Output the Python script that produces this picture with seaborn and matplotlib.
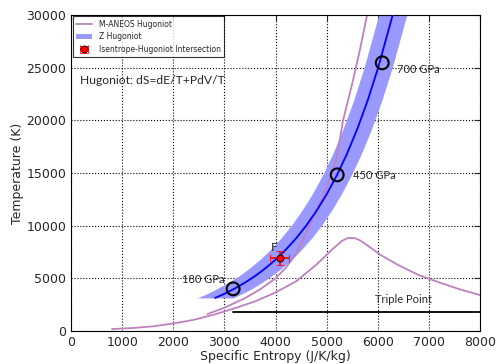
import numpy as np
import pandas as pd
import matplotlib
matplotlib.use("Agg")
import matplotlib.pyplot as plt
import seaborn as sns
from matplotlib.lines import Line2D
from matplotlib.patches import Patch

# M-ANEOS Hugoniot, branch 1 (rising steeply)
aneos1_S = [2670, 3000, 3400, 3700, 4000, 4200, 4400, 4600, 4800, 5000, 5100, 5200, 5320, 5500, 5650, 5790]
aneos1_T = [1600, 2200, 3100, 3950, 5000, 6000, 7300, 9300, 11400, 13600, 15000, 16500, 20000, 23500, 26700, 30000]
# M-ANEOS Hugoniot, branch 2 (peak then decline)
aneos2_S = [800, 1200, 1600, 2000, 2400, 2800, 3200, 3600, 4000, 4400, 4800, 5100, 5300, 5420,
            5550, 5650, 5800, 6050, 6400, 6800, 7200, 7600, 8000]
aneos2_T = [170, 270, 430, 700, 1050, 1550, 2150, 2800, 3650, 4700, 6300, 7700, 8550, 8830,
            8800, 8600, 8100, 7220, 6250, 5300, 4600, 3950, 3400]
# Z Hugoniot
z_S = [2818, 3000, 3200, 3400, 3600, 3800, 4000, 4200, 4400, 4600, 4800, 5000, 5200, 5400, 5600, 5800, 6000, 6200, 6290]
z_T = [3130, 3520, 4020, 4580, 5210, 5940, 6760, 7710, 8780, 10000, 11400, 12980, 14790, 16850, 19200, 21870, 24900, 28400, 30000]
z_band = [350, 345, 340, 330, 320, 315, 310, 305, 300, 295, 290, 285, 280, 280, 278, 276, 275, 275, 275]
# pressure points
p_S = [3170, 5205, 6086]
p_T = [3990, 14815, 25450]
p_lab = ["180 GPa", "450 GPa", "700 GPa"]
# intersection
f_S, f_T, f_Serr, f_Terr = 4080, 6930, 180, 650
# triple point
tp_T = 1800
tp_S = [3175, 8000]

sns.set_style("white")
plt.rcParams['font.family'] = ['DejaVu Sans']

fig = plt.figure(figsize=(4.97, 3.64), dpi=100)
ax = fig.add_axes([0.143, 0.091, 0.823, 0.868])

band_col = (0.6, 0.6, 1.0)
zs = np.array(z_S); zb = np.array(z_band)
ax.fill_betweenx(z_T, zs - zb, zs + zb, color=band_col, lw=0, zorder=1)

purple = (0.75, 0.5, 0.75)
df1 = pd.DataFrame({"S": aneos1_S, "T": aneos1_T})
df2 = pd.DataFrame({"S": aneos2_S, "T": aneos2_T})
dfz = pd.DataFrame({"S": z_S, "T": z_T})
sns.lineplot(data=df1, x="S", y="T", sort=False, estimator=None, color=purple, lw=1.3, ax=ax, zorder=2)
sns.lineplot(data=df2, x="S", y="T", sort=False, estimator=None, color=purple, lw=1.3, ax=ax, zorder=2)
sns.lineplot(data=dfz, x="S", y="T", sort=False, estimator=None, color=(0, 0, 1), lw=1.3, ax=ax, zorder=3)

ax.plot(tp_S, [tp_T, tp_T], color='black', lw=1.3, zorder=2)
ax.text(6500, 2950, "Triple Point", ha='center', va='center', fontsize=8, family=['Lato', 'DejaVu Sans'])

sns.scatterplot(x=p_S, y=p_T, s=85, facecolor='none', edgecolor='black', linewidth=1.5, ax=ax, zorder=5)
offs = [(-170, 900, 'right'), (300, -100, 'left'), (290, -650, 'left')]
for s, t, lab, (dx, dy, ha) in zip(p_S, p_T, p_lab, offs):
    ax.text(s + dx, t + dy, lab, ha=ha, va='center', fontsize=8, family=['Lato', 'DejaVu Sans'])

eb = ax.errorbar(f_S, f_T, xerr=f_Serr, yerr=f_Terr, fmt='o', color='red', ecolor='red',
                 mec='black', mew=0.6, ms=5, capsize=3, elinewidth=1.2, zorder=6)
ax.text(f_S - 110, f_T + 950, "F", ha='center', va='center', fontsize=8.5, family=['Lato', 'DejaVu Sans'])

ax.text(176, 23800, "Hugoniot: dS=dE/T+PdV/T", ha='left', va='center', fontsize=8.7, family=['Lato', 'DejaVu Sans'])

ax.set_xlim(0, 8000)
ax.set_ylim(0, 30000)
ax.set_xticks(range(0, 8001, 1000))
ax.set_yticks(range(0, 30001, 5000))
ax.grid(True, color='black', linestyle=':', lw=0.8)
ax.tick_params(direction='in', top=True, right=True, length=4, labelsize=9, width=0.8)
for sp in ax.spines.values():
    sp.set_color('black'); sp.set_linewidth(0.8)
ax.set_xlabel("Specific Entropy (J/K/kg)", fontsize=9, labelpad=1)
ax.set_ylabel("Temperature (K)", fontsize=9, labelpad=2)

handles = [Line2D([], [], color=purple, lw=1.3),
           Patch(facecolor=band_col, edgecolor='none'),
           eb]
leg = ax.legend(handles, ["M-ANEOS Hugoniot", "Z Hugoniot", "Isentrope-Hugoniot Intersection"],
                loc='upper left', fontsize=5.5, frameon=True, fancybox=False, borderpad=0.4,
                handlelength=2.2, borderaxespad=0.2, labelspacing=0.5)
leg.get_frame().set_edgecolor('black')
leg.get_frame().set_linewidth(0.8)

fig.savefig("out.png", dpi=100)
